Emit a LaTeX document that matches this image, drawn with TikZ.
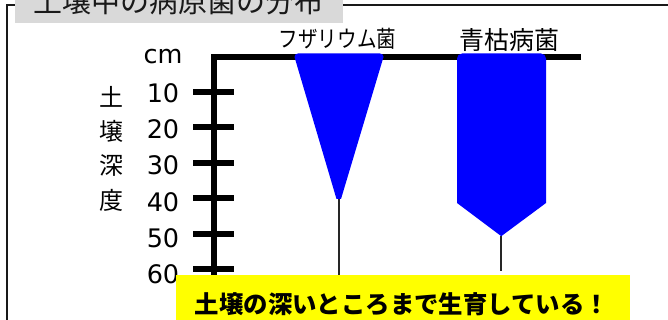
\documentclass[tikz,border=0pt]{standalone}
\usepackage{graphicx}
\usepackage{fontspec}
\setmainfont{DejaVu Sans}
\newfontfamily\jpfont{Noto Sans CJK JP}
\definecolor{titlegrey}{RGB}{217,217,217}
\definecolor{fungus}{RGB}{0,0,255}
\definecolor{note}{RGB}{255,255,0}
\tikzset{
  axisline/.style={line width=6pt,black},
  tick/.style={line width=6pt,black},
  depthlabel/.style={font=\fontsize{25.5}{25.5}\selectfont,inner sep=0pt,anchor=center},
  vertlabel/.style={font=\jpfont\fontsize{24}{24}\selectfont,inner sep=0pt,anchor=center},
  tail/.style={line width=1.3pt,black!85},
}
\begin{document}
\begin{tikzpicture}[x=1pt,y=-1pt]
\useasboundingbox (0,0) rectangle (668,320);
\fill[white] (0,0) rectangle (668,320);
% frame
\draw[line width=2pt,black!90] (6.5,321) -- (6.5,5) -- (669,5);
% title (clipped by the page)
\fill[titlegrey] (15,-2) rectangle (343,23.5);
\begin{scope}
\clip (0,0) rectangle (668,320);
\node[inner sep=0pt,anchor=center,font=\jpfont\fontsize{29}{29}\selectfont,text=black!90] (title) at (178.5,1.5) {土壌中の病原菌の分布};
\end{scope}
% axes
\draw[axisline] (581,57) -- (214,57) -- (214,278);
\foreach \y in {92.5,127.5,163,198,234,269}{
  \draw[tick] (193,\y) -- (234,\y);
}
% depth labels
\node[depthlabel] (cm) at (163,57) {cm};
\node[depthlabel] (d10) at (163,93) {10};
\node[depthlabel] (d20) at (163,129) {20};
\node[depthlabel] (d30) at (163,165) {30};
\node[depthlabel] (d40) at (163,202) {40};
\node[depthlabel] (d50) at (163,238) {50};
\node[depthlabel] (d60) at (163,274) {60};
\node[vertlabel] (v1) at (111,96.5) {土};
\node[vertlabel] (v2) at (111,131.5) {壌};
\node[vertlabel] (v3) at (111,166) {深};
\node[vertlabel] (v4) at (111,200.5) {度};
% tails
\draw[tail] (339,199) -- (339,280);
\draw[tail] (501,236) -- (501,271);
% fungi
\fill[fungus] (298,53.5) -- (380,53.5) to[out=0,in=75] (383.5,57) -- (341,199) -- (336.5,199) -- (294.5,57) to[out=105,in=180] (298,53.5) -- cycle;
\fill[fungus] (462,53.5) -- (541,53.5) to[out=0,in=90] (546,58.5) -- (546,203) -- (501.5,236) -- (501,236) -- (457,203) -- (457,58.5) to[out=90,in=180] (462,53.5) -- cycle;
% species labels
\node[inner sep=0pt,font=\jpfont\fontsize{23}{23}\selectfont] (fus) at (337.5,38.5) {\scalebox{0.85}[1]{フザリウム菌}};
\node[inner sep=0pt,font=\jpfont\fontsize{25}{25}\selectfont] (bac) at (509.5,40) {青枯病菌};
% note
\node[fill=note,inner sep=0pt,minimum width=454pt,minimum height=46pt,anchor=north west] (note) at (176,275) {};
\node[inner sep=0pt,font=\jpfont\bfseries\fontsize{24.4}{24.4}\selectfont] (notetext) at (402,304) {土壌の深いところまで生育している！};
\end{tikzpicture}
\end{document}
